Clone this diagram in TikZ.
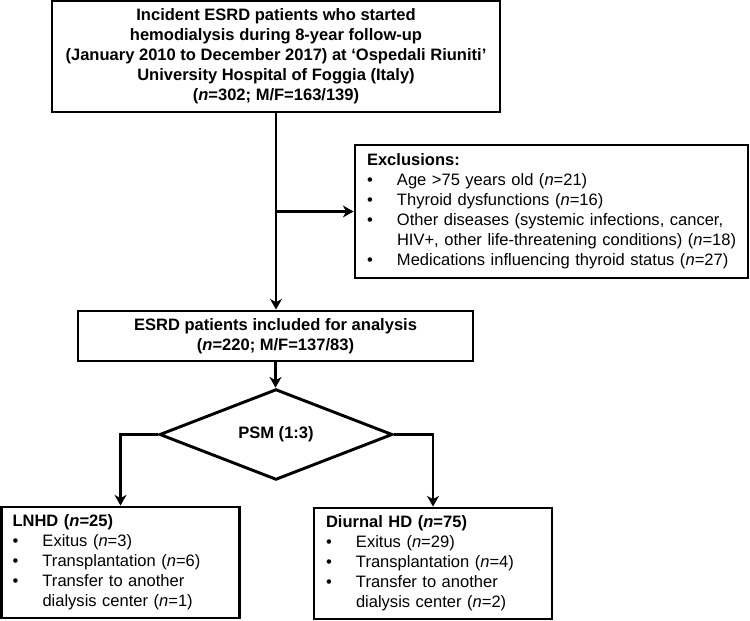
\documentclass[tikz,border=0pt]{standalone}
\usepackage{fontspec}
\setmainfont{Liberation Sans}
\usetikzlibrary{shapes.geometric,arrows.meta}
\newcommand\figfont{\fontsize{12.4pt}{15pt}\selectfont}
\newcommand\bul{\makebox[22.5pt][l]{•}}
\newcommand\ind{\hspace*{22.5pt}}
\begin{document}
\begin{tikzpicture}[x=0.75pt,y=-0.75pt,
  box/.style={draw, line width=2.2pt, inner xsep=0pt, inner ysep=0pt, font=\figfont},
  listbox/.style={box, align=left},
  arr/.style={line width=1.9pt, line join=miter, -{Stealth[length=8pt,width=9pt,inset=2.5pt]}},
  decision/.style={diamond, draw, line width=2.2pt, inner sep=0pt, font=\figfont\bfseries}]
\useasboundingbox (0,0) rectangle (750,621);

\node[box, font=\figfont\bfseries, align=center, minimum width=336pt, minimum height=83.25pt] (top) at (276,56.5)
  {Incident ESRD patients who started\\hemodialysis during 8-year follow-up\\(January 2010 to December 2017) at ‘Ospedali Riuniti’\\University Hospital of Foggia (Italy)\\(\textit{n}=302; M/F=163/139)};

\node[listbox, text width=276.75pt, inner xsep=9pt, minimum height=99.75pt] (excl) at (551.5,211.5)
  {\mbox{\textbf{Exclusions:}}\\
   \mbox{\bul Age >75 years old (\textit{n}=21)}\\
   \mbox{\bul Thyroid dysfunctions (\textit{n}=16)}\\
   \mbox{\bul Other diseases (systemic infections, cancer,}\\
   \mbox{\ind HIV+, other life-threatening conditions) (\textit{n}=18)}\\
   \mbox{\bul Medications influencing thyroid status (\textit{n}=27)}};

\node[box, font=\figfont\bfseries, align=center, minimum width=296.25pt, minimum height=37.5pt] (mid) at (275.5,336)
  {ESRD patients included for analysis\\(\textit{n}=220; M/F=137/83)};

\node[decision, minimum width=174.75pt, minimum height=44.25pt] (psm) at (276,434.5) {PSM (1:3)};

\node[listbox, text width=162pt, inner xsep=8.25pt, minimum height=83.25pt] (lnhd) at (120.5,562.5)
  {\mbox{\textbf{LNHD (\textit{n}=25)}}\\
   \mbox{\bul Exitus (\textit{n}=3)}\\
   \mbox{\bul Transplantation (\textit{n}=6)}\\
   \mbox{\bul Transfer to another}\\
   \mbox{\ind dialysis center (\textit{n}=1)}};

\node[listbox, text width=160.5pt, inner xsep=9pt, minimum height=83.25pt] (diur) at (433,563.5)
  {\mbox{\textbf{Diurnal HD (\textit{n}=75)}}\\
   \mbox{\bul Exitus (\textit{n}=29)}\\
   \mbox{\bul Transplantation (\textit{n}=4)}\\
   \mbox{\bul Transfer to another}\\
   \mbox{\ind dialysis center (\textit{n}=2)}};

\draw[arr] (top.south) -- (top.south |- mid.north);
\draw[arr] (top.south |- excl.west) -- (excl.west);
\draw[arr] (mid.south) -- (mid.south |- psm.north);
\draw[arr] (psm.west) -| (lnhd.north);
\draw[arr] (psm.east) -| (diur.north);
\end{tikzpicture}
\end{document}
